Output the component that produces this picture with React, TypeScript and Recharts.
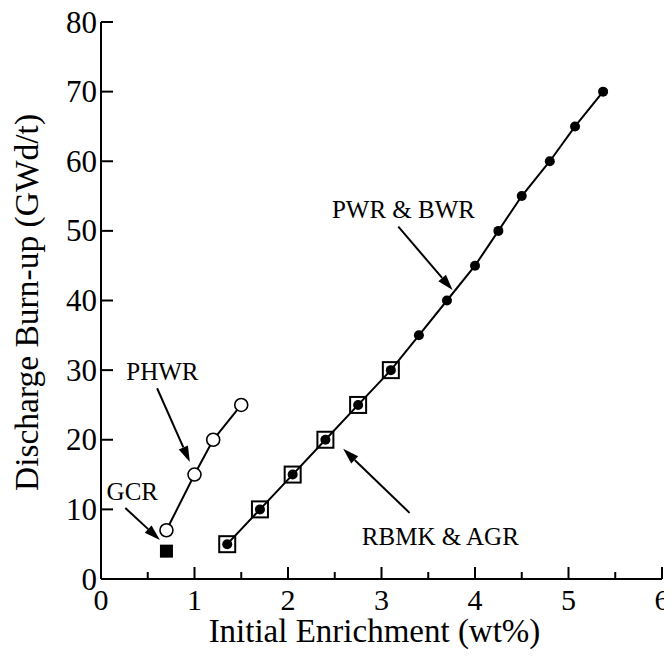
import { ScatterChart, Scatter, XAxis, YAxis, ReferenceLine, Label } from 'recharts'

const FONT = 'Liberation Serif, DejaVu Serif, serif'

// axis ticks
const xTicks = [0, 0.5, 1, 1.5, 2, 2.5, 3, 3.5, 4, 4.5, 5, 5.5, 6]
const yTicks = [0, 10, 20, 30, 40, 50, 60, 70, 80]

// PWR & BWR (filled dots, joined)
const pwrX = [1.35, 1.7, 2.05, 2.4, 2.75, 3.1, 3.4, 3.7, 4.0, 4.25, 4.5, 4.8, 5.07, 5.37]
const pwrY = [5, 10, 15, 20, 25, 30, 35, 40, 45, 50, 55, 60, 65, 70]

// RBMK & AGR (open squares)
const rbmkX = [1.35, 1.7, 2.05, 2.4, 2.75, 3.1]
const rbmkY = [5, 10, 15, 20, 25, 30]

// PHWR (open circles, joined)
const phwrX = [0.7, 1.0, 1.2, 1.5]
const phwrY = [7, 15, 20, 25]

// GCR (filled square)
const gcrX = [0.7]
const gcrY = [4]

// annotations, in data units
const noteText = ['PWR & BWR', 'RBMK & AGR', 'PHWR', 'GCR']
const noteX = [2.47, 2.79, 0.27, 0.06]
const noteY = [51.9, 4.9, 28.6, 11.3]
const arrowFromX = [3.18, 3.3, 0.6, 0.26]
const arrowFromY = [50.6, 9.5, 27.4, 10.2]
const arrowToX = [3.76, 2.59, 0.95, 0.63]
const arrowToY = [41.5, 18.7, 16.8, 5.6]

const zip = (xs: number[], ys: number[]) => xs.map((x, i) => ({ x, y: ys[i] }))

const pwr = zip(pwrX, pwrY)
const rbmk = zip(rbmkX, rbmkY)
const phwr = zip(phwrX, phwrY)
const gcr = zip(gcrX, gcrY)
const notes = noteText.map((label, i) => ({ x: noteX[i], y: noteY[i], label }))

const txt = { fontFamily: FONT, fill: '#000' }

const XBottomTick = (p: any) => {
  const v = p.payload.value
  const major = Number.isInteger(v)
  return (
    <g>
      <line x1={p.x} y1={p.y} x2={p.x} y2={p.y - (major ? 12 : 7)} stroke="#000" strokeWidth={2} />
      {major && (
        <text x={p.x} y={p.y + 31} textAnchor="middle" fontSize={30} style={txt}>
          {v}
        </text>
      )}
    </g>
  )
}

const XTopTick = (p: any) => {
  const major = Number.isInteger(p.payload.value)
  return <line x1={p.x} y1={p.y} x2={p.x} y2={p.y + (major ? 12 : 7)} stroke="#000" strokeWidth={2} />
}

const YLeftTick = (p: any) => (
  <g>
    <line x1={p.x} y1={p.y} x2={p.x + 12} y2={p.y} stroke="#000" strokeWidth={2} />
    <text x={p.x - 4} y={p.y} dy="0.34em" textAnchor="end" fontSize={31} style={txt}>
      {p.payload.value}
    </text>
  </g>
)

const YRightTick = (p: any) => (
  <line x1={p.x} y1={p.y} x2={p.x - 12} y2={p.y} stroke="#000" strokeWidth={2} />
)

const Arrow = (p: any) => {
  const { x1, y1, x2, y2 } = p
  const dx = x2 - x1
  const dy = y2 - y1
  const len = Math.hypot(dx, dy)
  const ux = dx / len
  const uy = dy / len
  const hl = 16
  const hw = 5
  const bx = x2 - ux * hl
  const by = y2 - uy * hl
  return (
    <g>
      <line x1={x1} y1={y1} x2={bx} y2={by} stroke="#000" strokeWidth={2} />
      <polygon
        points={`${x2},${y2} ${bx - uy * hw},${by + ux * hw} ${bx + uy * hw},${by - ux * hw}`}
        fill="#000"
      />
    </g>
  )
}

const Dot = (p: any) => <circle cx={p.cx} cy={p.cy} r={5} fill="#000" />
const OpenCircle = (p: any) => (
  <circle cx={p.cx} cy={p.cy} r={6.5} fill="#fff" stroke="#000" strokeWidth={1.6} />
)
const OpenSquare = (p: any) => (
  <rect x={p.cx - 8} y={p.cy - 8} width={16} height={16} fill="none" stroke="#000" strokeWidth={2} />
)
const FilledSquare = (p: any) => (
  <rect x={p.cx - 6.5} y={p.cy - 6.5} width={13} height={13} fill="#000" />
)
const NoteText = (p: any) => (
  <text x={p.cx} y={p.cy} fontSize={25} style={txt}>
    {p.payload?.label ?? p.label}
  </text>
)

export default function App() {
  return (
    <div style={{ margin: '-8px 0 0 -8px', width: 672, height: 659 }}>
      <ScatterChart width={672} height={659} margin={{ top: 22, right: 10, bottom: 0, left: 8 }}>
        <XAxis
          type="number"
          dataKey="x"
          domain={[0, 6]}
          ticks={xTicks}
          interval={0}
          height={80}
          tickSize={0}
          tickMargin={0}
          tickLine={false}
          axisLine={{ stroke: '#000', strokeWidth: 2 }}
          tick={(p: any) => <XBottomTick {...p} />}
        >
          <Label
            content={(lp: any) => {
              const vb = lp.viewBox || {}
              return (
                <text
                  x={vb.x + vb.width / 2 - 7}
                  y={vb.y + 63}
                  textAnchor="middle"
                  fontSize={33}
                  style={txt}
                >
                  Initial Enrichment (wt%)
                </text>
              )
            }}
          />
        </XAxis>
        <XAxis
          xAxisId="top"
          orientation="top"
          type="number"
          domain={[0, 6]}
          ticks={xTicks}
          interval={0}
          height={0}
          tickSize={0}
          tickMargin={0}
          tickLine={false}
          axisLine={{ stroke: '#000', strokeWidth: 2 }}
          tick={(p: any) => <XTopTick {...p} />}
        />
        <YAxis
          type="number"
          dataKey="y"
          domain={[0, 80]}
          ticks={yTicks}
          interval={0}
          width={93}
          tickSize={0}
          tickMargin={0}
          tickLine={false}
          axisLine={{ stroke: '#000', strokeWidth: 2 }}
          tick={(p: any) => <YLeftTick {...p} />}
        >
          <Label
            content={(lp: any) => {
              const vb = lp.viewBox || {}
              const cy = vb.y + vb.height / 2 + 2
              return (
                <text
                  x={38}
                  y={cy}
                  transform={`rotate(-90 38 ${cy})`}
                  textAnchor="middle"
                  fontSize={33.5}
                  style={txt}
                >
                  Discharge Burn-up (GWd/t)
                </text>
              )
            }}
          />
        </YAxis>
        <YAxis
          yAxisId="right"
          orientation="right"
          type="number"
          domain={[0, 80]}
          ticks={yTicks}
          interval={0}
          width={0}
          tickSize={0}
          tickMargin={0}
          tickLine={false}
          axisLine={{ stroke: '#000', strokeWidth: 2 }}
          tick={(p: any) => <YRightTick {...p} />}
        />

        {noteText.map((t, i) => (
          <ReferenceLine
            key={t}
            segment={[
              { x: arrowFromX[i], y: arrowFromY[i] },
              { x: arrowToX[i], y: arrowToY[i] },
            ]}
            shape={(p: any) => <Arrow {...p} />}
          />
        ))}

        <Scatter
          data={pwr}
          line={{ stroke: '#000', strokeWidth: 2 }}
          shape={(p: any) => <Dot {...p} />}
          isAnimationActive={false}
        />
        <Scatter
          data={rbmk}
          shape={(p: any) => <OpenSquare {...p} />}
          isAnimationActive={false}
        />
        <Scatter
          data={phwr}
          line={{ stroke: '#000', strokeWidth: 2 }}
          shape={(p: any) => <OpenCircle {...p} />}
          isAnimationActive={false}
        />
        <Scatter
          data={gcr}
          shape={(p: any) => <FilledSquare {...p} />}
          isAnimationActive={false}
        />
        <Scatter
          data={notes}
          shape={(p: any) => <NoteText {...p} />}
          isAnimationActive={false}
        />
      </ScatterChart>
    </div>
  )
}
